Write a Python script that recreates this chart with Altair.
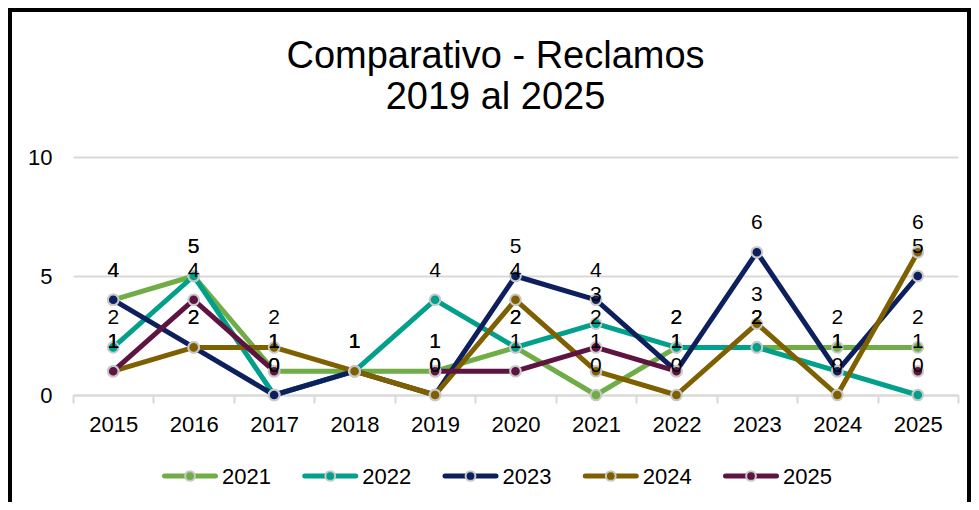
import altair as alt
import pandas as pd

# ---- data ----
years = ["2015", "2016", "2017", "2018", "2019", "2020", "2021", "2022", "2023", "2024", "2025"]
series_names = ["2021", "2022", "2023", "2024", "2025"]
v2021 = [4, 5, 1, 1, 1, 2, 0, 2, 2, 2, 2]
v2022 = [2, 5, 0, 1, 4, 2, 3, 2, 2, 1, 0]
v2023 = [4, 2, 0, 1, 0, 5, 4, 1, 6, 1, 5]
v2024 = [1, 2, 2, 1, 0, 4, 1, 0, 3, 0, 6]
v2025 = [1, 4, 1, None, 1, 1, 2, 1, None, None, 1]
colors = ["#70AD47", "#00A08A", "#0E1F5E", "#7F6000", "#5E1441"]
title_lines = ["Comparativo - Reclamos", "2019 al 2025"]
y_ticks = [0, 5, 10]

FONT = "Liberation Sans"

rows = []
for name, vals in zip(series_names, [v2021, v2022, v2023, v2024, v2025]):
    for yr, v in zip(years, vals):
        rows.append({"anio": yr, "serie": name, "valor": v})
df = pd.DataFrame(rows)
legend_df = pd.DataFrame({"serie": series_names})

color_scale = alt.Scale(domain=series_names, range=colors)

x_enc = alt.X(
    "anio:N",
    sort=years,
    bandPosition=0.5,
    scale=alt.Scale(type="band", paddingInner=0, paddingOuter=0),
    axis=alt.Axis(
        title=None, labelAngle=0, tickBand="extent", ticks=True, tickSize=8,
        tickColor="#D9D9D9", tickWidth=2, domainColor="#D9D9D9", domainWidth=2,
        labelFontSize=22, labelFont=FONT, labelColor="black", labelPadding=11,
        grid=False,
    ),
)
y_enc = alt.Y(
    "valor:Q",
    scale=alt.Scale(domain=[0, 10], nice=False),
    axis=alt.Axis(
        title=None, values=y_ticks, grid=True, gridColor="#D9D9D9", gridWidth=2,
        domain=False, ticks=False, labelFontSize=22, labelFont=FONT,
        labelColor="black", labelPadding=21,
    ),
)

base = alt.Chart(df)

lines = base.mark_line(
    strokeWidth=5, strokeCap="round", strokeJoin="round",
    invalid="break-paths-show-domains",
).encode(
    x=x_enc, y=y_enc,
    color=alt.Color("serie:N", scale=color_scale, legend=None),
)

points = base.transform_filter("isValid(datum.valor)").mark_point(
    filled=True, size=113, stroke="#C8C8C8", strokeWidth=2, opacity=1, shape="circle",
).encode(
    x=x_enc, y=y_enc,
    fill=alt.Fill("serie:N", scale=color_scale, legend=None),
)

labels = base.transform_filter("isValid(datum.valor)").mark_text(
    dy=-29, fontSize=21, font=FONT, color="black", baseline="middle",
).encode(
    x=x_enc, y=y_enc,
    text=alt.Text("valor:Q", format="d"),
)

main = alt.layer(lines, points, labels)

# ---- legend row (line + marker + label), laid out by its own point scale ----
leg_scale = alt.Scale(type="point", domain=series_names, range=[117, 678], padding=0)
leg_x = alt.X("serie:N", scale=leg_scale, axis=None)
leg_base = alt.Chart(legend_df)
leg_line = leg_base.mark_rule(
    strokeWidth=5, strokeCap="round", xOffset=-25.5, x2Offset=25.5, opacity=1,
).encode(x=leg_x, x2=alt.X2("serie:N"), y=alt.value(319),
         color=alt.Color("serie:N", scale=color_scale, legend=None))
leg_dot = leg_base.mark_point(
    shape="circle", size=95, filled=True, stroke="#C8C8C8", strokeWidth=2, opacity=1,
).encode(x=leg_x, y=alt.value(319),
         fill=alt.Fill("serie:N", scale=color_scale, legend=None))
leg_text = leg_base.mark_text(
    align="left", baseline="middle", dx=32, dy=1, fontSize=22, font=FONT, color="black",
).encode(x=leg_x, y=alt.value(319), text="serie:N")
legend_layer = alt.layer(leg_line, leg_dot, leg_text)

frame_df = pd.DataFrame({"k": [0]})
frame_left = alt.Chart(frame_df).mark_rule(color="black", strokeWidth=4, clip=False).encode(
    x=alt.value(-63), y=alt.value(-149), y2=alt.value(345))
frame_top = alt.Chart(frame_df).mark_rule(color="black", strokeWidth=4, clip=False).encode(
    x=alt.value(-65), x2=alt.value(898), y=alt.value(-147))
frame_right = alt.Chart(frame_df).mark_rule(color="black", strokeWidth=4, clip=False).encode(
    x=alt.value(896), y=alt.value(-149), y2=alt.value(345))

chart = alt.layer(
    main, legend_layer, frame_left, frame_top, frame_right
).resolve_scale(
    x="independent"
).properties(
    width=885,
    height=238,
    padding={"left": 65, "top": 149, "right": 13, "bottom": 107},
    autosize=alt.AutoSizeParams(type="none"),
    title=alt.TitleParams(
        text=title_lines, fontSize=38, font=FONT, fontWeight="normal",
        color="black", anchor="middle", frame="group", dx=-20, offset=-149,
        lineHeight=41, baseline="bottom",
    ),
    background="white",
).configure_view(stroke="transparent")

chart.save("out.html", embed_options={"renderer": "svg", "actions": False})
